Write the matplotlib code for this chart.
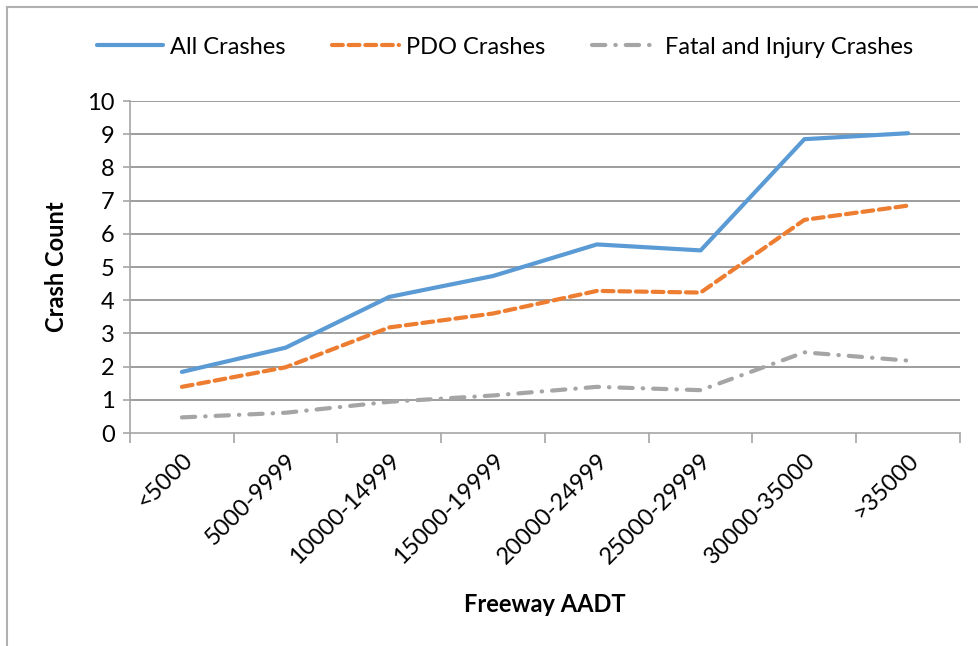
import matplotlib
matplotlib.use("Agg")
import matplotlib.pyplot as plt
from matplotlib.lines import Line2D
import numpy as np

categories = ["<5000", "5000-9999", "10000-14999", "15000-19999",
              "20000-24999", "25000-29999", "30000-35000", ">35000"]
all_crashes = [1.84, 2.57, 4.10, 4.73, 5.68, 5.50, 8.85, 9.03]
pdo_crashes = [1.39, 1.98, 3.18, 3.60, 4.28, 4.23, 6.42, 6.85]
fi_crashes = [0.47, 0.61, 0.94, 1.13, 1.39, 1.29, 2.43, 2.18]
y_ticks = list(range(0, 11))

plt.rcParams['font.family'] = ['Lato', 'DejaVu Sans']
FS = 17

W, H = 979, 646
fig = plt.figure(figsize=(W / 100, H / 100), dpi=100)
ax = fig.add_axes([130 / W, 1 - 433 / H, (960 - 130) / W, (433 - 101) / H])

x = np.arange(len(categories))
grid_c = "#8c8c8c"
ax.set_xlim(-0.5, len(categories) - 0.5)
ax.set_ylim(0, 10)
for yv in y_ticks[1:]:
    ax.axhline(yv, color=grid_c, lw=1.2, zorder=1)

l1, = ax.plot(x, all_crashes, color="#5B9BD5", lw=3.0, solid_capstyle="round",
              solid_joinstyle="round", zorder=3, label="All Crashes")
l2, = ax.plot(x, pdo_crashes, color="#ED7D31", lw=3.0, dashes=(2.6, 1.4),
              dash_capstyle="round", zorder=3, label="PDO Crashes")
l3, = ax.plot(x, fi_crashes, color="#A5A5A5", lw=3.0, dashes=(3.2, 2.4, 0.1, 2.4),
              dash_capstyle="round", zorder=3, label="Fatal and Injury Crashes")

for s in ["top", "right"]:
    ax.spines[s].set_visible(False)
for s in ["left", "bottom"]:
    ax.spines[s].set_color("#a6a6a6")
    ax.spines[s].set_linewidth(1.2)

ax.set_yticks(y_ticks)
ax.set_yticklabels([str(v) for v in y_ticks], fontsize=FS)
ax.set_xticks(np.arange(len(categories) + 1) - 0.5, minor=False)
ax.set_xticklabels([])
ax.set_xticks(x, minor=True)
ax.set_xticklabels(categories, minor=True, rotation=45, ha="right",
                   rotation_mode="anchor", fontsize=FS)
ax.tick_params(axis="x", which="major", length=7, color="#a6a6a6", width=1.2)
ax.tick_params(axis="x", which="minor", length=0, pad=12)
ax.tick_params(axis="y", length=5, color="#a6a6a6", width=1.2, pad=6)
for lab in ax.get_xticklabels(minor=True):
    lab.set_transform(lab.get_transform() + matplotlib.transforms.ScaledTranslation(0.0, 0, fig.dpi_scale_trans))

ax.set_ylabel("Crash Count", fontsize=FS, fontweight="bold", labelpad=14)
ax.set_xlabel("Freeway AADT", fontsize=FS, fontweight="bold", labelpad=18)

fig.legend(handles=[l1, l2, l3], loc="center", bbox_to_anchor=(505 / W, 1 - 47 / H),
           ncol=3, frameon=False, fontsize=FS, handlelength=2.8,
           columnspacing=2.0, handletextpad=0.3)

# outer chart border
fig.add_artist(Line2D([7 / W, 7 / W], [1 - 7 / H, 0], color="#b0b0b0", lw=1.5,
                      transform=fig.transFigure))
fig.add_artist(Line2D([7 / W, 1], [1 - 7 / H, 1 - 7 / H], color="#b0b0b0", lw=1.5,
                      transform=fig.transFigure))

fig.savefig("out.png", dpi=100)
